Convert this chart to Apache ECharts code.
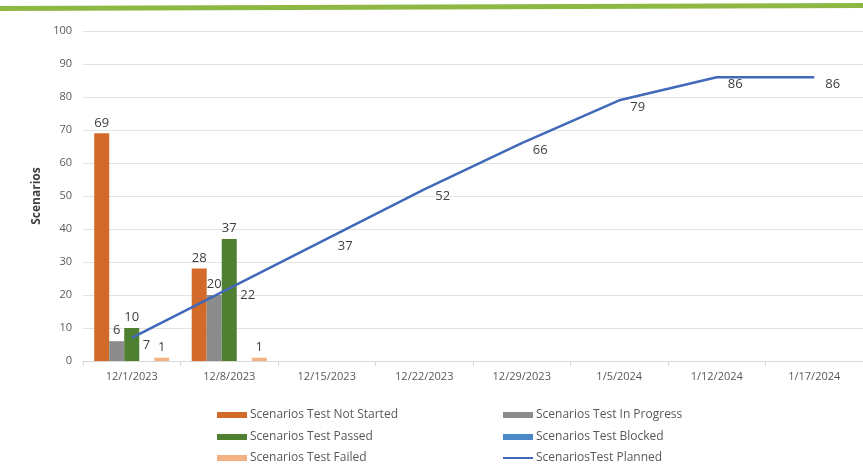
<!DOCTYPE html>
<html><head><meta charset="utf-8">
<script src="https://cdn.jsdelivr.net/npm/echarts@6/dist/echarts.min.js"></script>
<style>html,body{margin:0;padding:0;background:#fff}#c{width:863px;height:470px}</style>
</head><body><div id="c"></div>
<script>
const categories = ['12/1/2023','12/8/2023','12/15/2023','12/22/2023','12/29/2023','1/5/2024','1/12/2024','1/17/2024'];
const notStarted = [69, 28, null, null, null, null, null, null];
const inProgress = [6, 20, null, null, null, null, null, null];
const passed = [10, 37, null, null, null, null, null, null];
const blocked = [null, null, null, null, null, null, null, null];
const failed = [1, 1, null, null, null, null, null, null];
const planned = [7, 22, 37, 52, 66, 79, 86, 86];
const yTicks = {min: 0, max: 100, interval: 10};

const names = ['Scenarios Test Not Started','Scenarios Test In Progress','Scenarios Test Passed','Scenarios Test Blocked','Scenarios Test Failed','ScenariosTest Planned'];
const colors = ['#D26B29','#8C8C8C','#4F7F30','#4A88C7','#F4B183','#4169BA'];
const font = 'Open Sans, Lato, sans-serif';
const lbl = {show:true, position:'top', color:'#404040', fontSize:13, fontFamily:font, distance:4};

function barSeries(i, data){
  return {name:names[i], type:'bar', data:data, barGap:'0%', barCategoryGap:'23%',
    itemStyle:{color:colors[i]}, label:lbl, z:2};
}
const legendPos = [[217,409],[503,409],[217,431],[503,431],[217,452],[503,452]];
const legends = names.map((n,i)=>({
  data:[{name:n, icon:'rect'}], left:legendPos[i][0], top:legendPos[i][1], padding:0,
  itemWidth:30, itemHeight: i===5 ? 2 : 6, itemGap:4, selectedMode:false,
  textStyle:{color:'#595959', fontSize:12, fontFamily:font, padding:[0,0,0,-2]}
}));

const chart = echarts.init(document.getElementById('c'));
chart.setOption({
  animation:false,
  color:colors,
  graphic:[{type:'polygon', shape:{points:[[0,6],[863,3],[863,8],[0,11]]}, style:{fill:'#8DB843'}, z:10}],
  legend:legends,
  grid:{left:83, right:0, top:31, bottom:109},
  xAxis:{type:'category', data:categories,
    axisLine:{lineStyle:{color:'#D9D9D9'}},
    axisTick:{show:true, length:5, lineStyle:{color:'#D9D9D9'}},
    axisLabel:{color:'#595959', fontSize:11, fontFamily:font, margin:10}},
  yAxis:{type:'value', min:yTicks.min, max:yTicks.max, interval:yTicks.interval,
    name:'Scenarios', nameLocation:'middle', nameGap:38,
    nameTextStyle:{color:'#404040', fontSize:12, fontWeight:'bold', fontFamily:font},
    axisLine:{show:false}, axisTick:{show:false},
    splitLine:{lineStyle:{color:'#E3E3E3'}},
    axisLabel:{color:'#595959', fontSize:11, fontFamily:font, margin:11}},
  series:[
    barSeries(0, notStarted), barSeries(1, inProgress), barSeries(2, passed),
    barSeries(3, blocked), barSeries(4, failed),
    {name:names[5], type:'line', data:planned, symbol:'circle', symbolSize:0.1, showSymbol:true, z:3,
      lineStyle:{color:colors[5], width:2.5}, itemStyle:{color:colors[5]},
      label:{show:true, position:'right', color:'#404040', fontSize:13, fontFamily:font, offset:[6,7]}}
  ]
});
</script></body></html>
